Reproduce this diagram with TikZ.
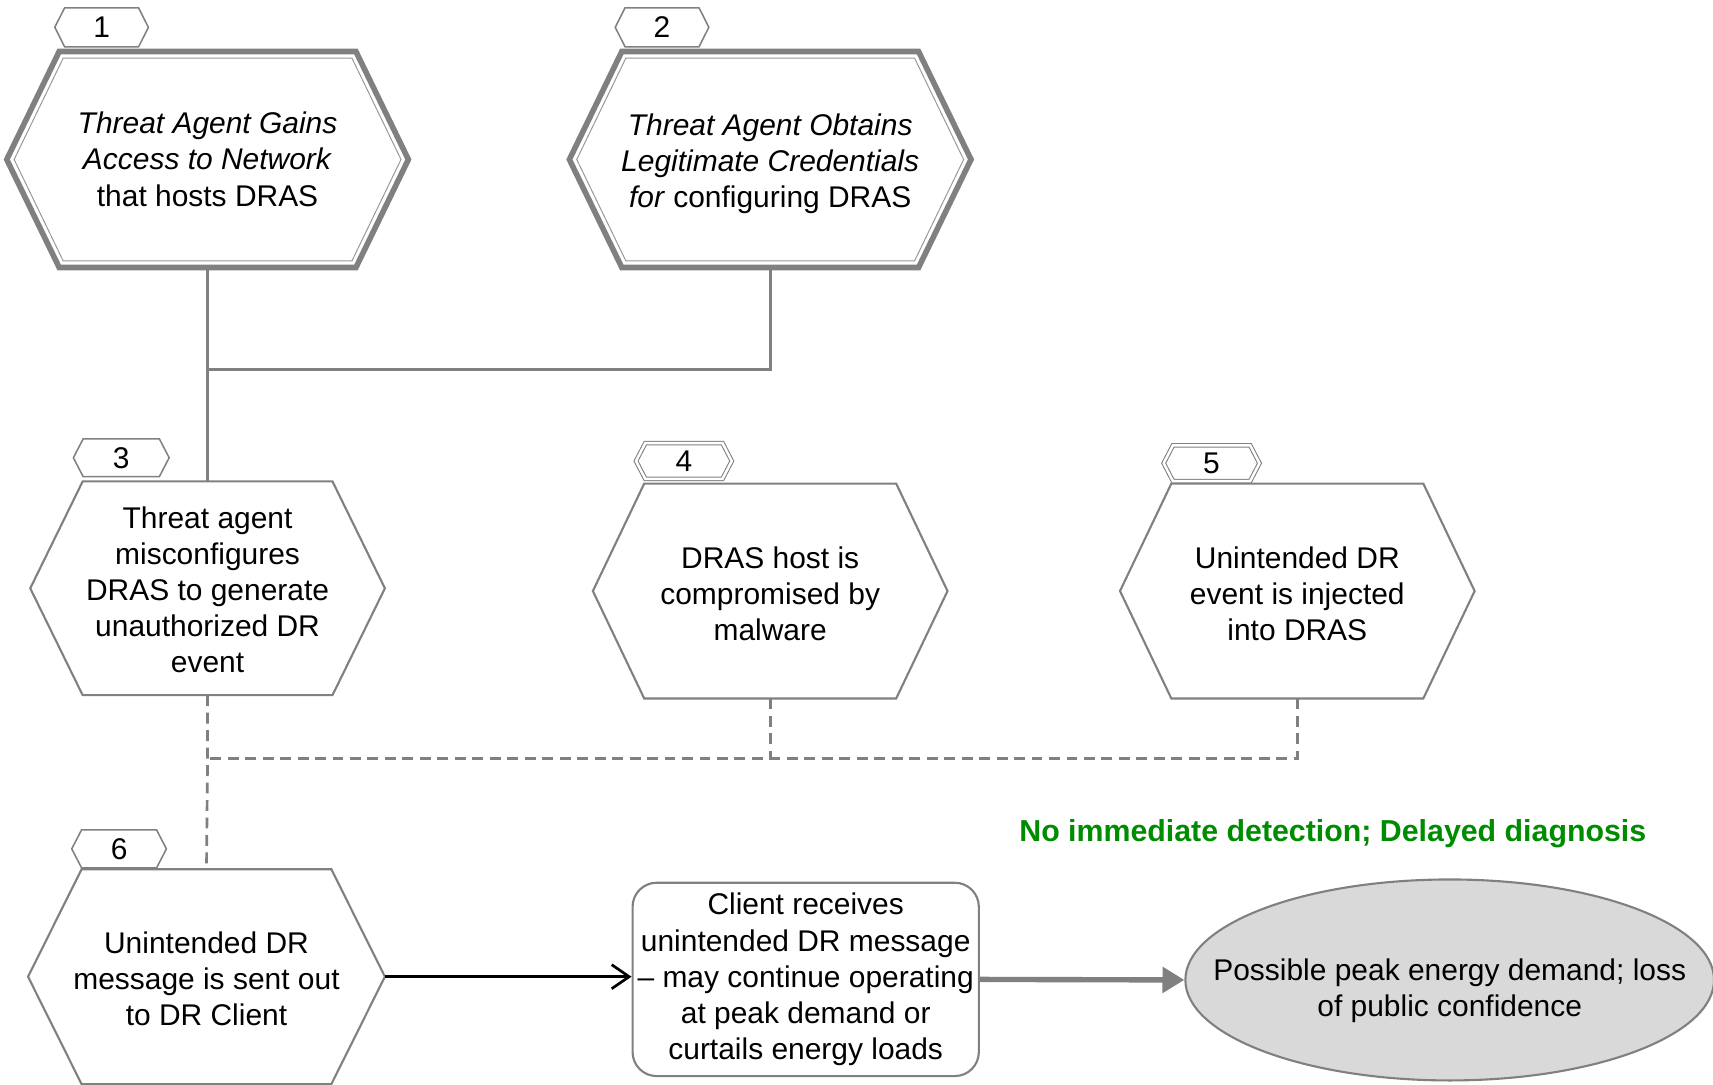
\documentclass[tikz,border=0pt]{standalone}
\usepackage{fontspec}
\setmainfont{Liberation Sans}
\usetikzlibrary{shapes.geometric,arrows.meta,calc}
\definecolor{lg}{RGB}{128,128,128}
\definecolor{lgt}{RGB}{150,150,150}
\definecolor{fillg}{RGB}{217,217,217}
\definecolor{grn}{RGB}{0,140,0}
\newcommand\dfont{\fontsize{15.6}{18.8}\selectfont}
\newcommand\ctrlines[2][0.1cm]{\makebox[0pt]{\raisebox{-#1}[\height][\depth]{\begin{tabular}{@{}c@{}}#2\end{tabular}}}}
\tikzset{
  hexbox/.style={rectangle, inner sep=0pt, align=center, font=\dfont},
  tagbox/.style={rectangle, inner sep=0pt, minimum height=0.68cm, font=\dfont},
  hexline/.style={draw=lg, line width=1.1pt},
  thickhex/.style={draw=lg, line width=2.9pt},
  thinhex/.style={draw=lgt, line width=0.5pt},
  tagline/.style={draw=lg, line width=0.8pt},
  tagdouble/.style={draw=lg, line width=0.55pt, double=white, double distance=0.045cm},
  conn/.style={draw=lg, line width=1.4pt},
  dconn/.style={draw=lg, line width=1.4pt, dash pattern=on 0.2cm off 0.12cm},
  cbox/.style={rectangle, rounded corners=0.44cm, draw=lg, line width=1.1pt, minimum width=6.34cm, minimum height=3.54cm, inner sep=0pt, align=center, font=\dfont},
  effect/.style={ellipse, draw=lg, line width=1.1pt, fill=fillg, minimum width=9.68cm, minimum height=3.68cm, inner sep=0pt, font=\dfont},
  barrow/.style={draw=black, line width=1.4pt, -{Straight Barb[length=0.32cm,width=0.44cm]}},
  garrow/.style={draw=lg, line width=2.8pt, -{Triangle[length=0.4cm,width=0.46cm]}},
}
\begin{document}
\begin{tikzpicture}[x=0.02cm,y=-0.02cm]
\useasboundingbox (0,0) rectangle (1568,993);

% main event nodes
\node[hexbox, minimum width=5.42cm, minimum height=3.94cm] (hex1) at (190,146)
  {\ctrlines[0.06cm]{\textit{Threat Agent Gains}\\\textit{Access to Network}\\that hosts DRAS}};
\node[hexbox, minimum width=5.42cm, minimum height=3.94cm] (hex2) at (705,146)
  {\ctrlines[0.09cm]{\textit{Threat Agent Obtains}\\\textit{Legitimate Credentials}\\\textit{for} configuring DRAS}};
\node[hexbox, minimum width=4.56cm, minimum height=3.9cm] (hex3) at (190,538.5)
  {\ctrlines[0.09cm]{Threat agent\\misconfigures\\DRAS to generate\\unauthorized DR\\event}};
\node[hexbox, minimum width=4.6cm, minimum height=3.92cm] (hex4) at (705,541)
  {\ctrlines[0.11cm]{DRAS host is\\compromised by\\malware}};
\node[hexbox, minimum width=4.6cm, minimum height=3.92cm] (hex5) at (1187.5,541)
  {\ctrlines[0.11cm]{Unintended DR\\event is injected\\into DRAS}};
\node[hexbox, minimum width=4.56cm, minimum height=3.92cm] (hex6) at (189,894)
  {\ctrlines[0.1cm]{Unintended DR\\message is sent out\\to DR Client}};

% hexagon outlines
\foreach \n in {hex1,hex2}{
  \draw[thickhex] (\n.north west) -- (\n.north east) -- ([xshift=0.96cm]\n.east)
    -- (\n.south east) -- (\n.south west) -- ([xshift=-0.96cm]\n.west) -- cycle;
  \draw[thinhex] ([shift={(0.074cm,-0.12cm)}]\n.north west) -- ([shift={(-0.074cm,-0.12cm)}]\n.north east)
    -- ([xshift=0.825cm]\n.east) -- ([shift={(-0.074cm,0.12cm)}]\n.south east)
    -- ([shift={(0.074cm,0.12cm)}]\n.south west) -- ([xshift=-0.825cm]\n.west) -- cycle;
}
\foreach \n/\d in {hex3/0.96,hex4/0.94,hex5/0.94,hex6/0.98}{
  \draw[hexline] (\n.north west) -- (\n.north east) -- ([xshift=\d cm]\n.east)
    -- (\n.south east) -- (\n.south west) -- ([xshift=-\d cm]\n.west) -- cycle;
}

% number tags
\node[tagbox, minimum width=1.34cm, minimum height=0.7cm] (tag1) at (93,25) {1};
\node[tagbox, minimum width=1.34cm, minimum height=0.7cm] (tag2) at (606,25) {2};
\node[tagbox, minimum width=1.38cm] (tag3) at (111,419) {3};
\node[tagbox, minimum width=1.4cm, minimum height=0.64cm] (tag4) at (626,422) {4};
\node[tagbox, minimum width=1.4cm, minimum height=0.64cm] (tag5) at (1109,424) {5};
\node[tagbox, minimum width=1.36cm] (tag6) at (109,777) {6};
\foreach \n in {tag1,tag2,tag3,tag6}{
  \draw[tagline] (\n.north west) -- (\n.north east) -- ([xshift=0.18cm]\n.east)
    -- (\n.south east) -- (\n.south west) -- ([xshift=-0.18cm]\n.west) -- cycle;
}
\foreach \n in {tag4,tag5}{
  \draw[tagdouble] (\n.north west) -- (\n.north east) -- ([xshift=0.17cm]\n.east)
    -- (\n.south east) -- (\n.south west) -- ([xshift=-0.17cm]\n.west) -- cycle;
}

% consequence nodes
\node[cbox] (client) at (737.5,896.5)
  {Client receives\\unintended DR message\\– may continue operating\\at peak demand or\\curtails energy loads};
\node[effect] (eff) at (1327,897)
  {\ctrlines[0.2cm]{Possible peak energy demand; loss\\of public confidence}};
\node[font=\fontsize{15.8}{19}\selectfont\bfseries, text=grn, inner sep=0pt] (note) at (1220,763)
  {No immediate detection; Delayed diagnosis};

% connectors
\coordinate (j1) at (190,338);
\draw[conn] (hex1.south) -- (hex3.north);
\draw[conn] (hex2.south) |- (j1);

\coordinate (j2) at (190,694);
\draw[dconn] (hex3.south) -- (j2) -- (hex6.north);
\draw[dconn] (hex4.south) -- (hex4.south |- j2);
\draw[dconn] (hex5.south) |- (j2);

\coordinate (tip6) at ([xshift=0.98cm]hex6.east);
\draw[barrow] (tip6) -- (tip6 -| client.west);
\draw[garrow] (client.east) -- (eff.west);
\end{tikzpicture}
\end{document}
